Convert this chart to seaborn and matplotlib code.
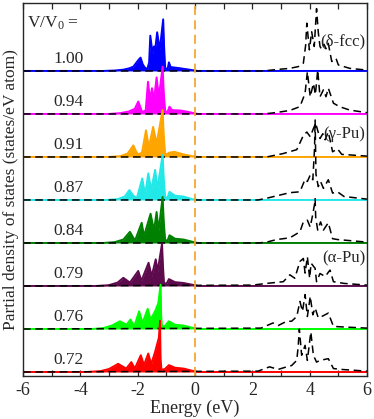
import numpy as np
import pandas as pd
import matplotlib
matplotlib.use("Agg")
import matplotlib.pyplot as plt
from matplotlib.ticker import MultipleLocator
import seaborn as sns

# ---------------- data ----------------
ratios = ["1.00", "0.94", "0.91", "0.87", "0.84", "0.79", "0.76", "0.72"]
colors = ["#0000ff", "#ff00ff", "#ffa500", "#22e8e8", "#008000", "#5e0b4e", "#00ff00", "#ff0000"]

# occupied (filled) partial DOS
occ_E = [
    [-6, -3.2, -2.8, -2.5, -2.3, -2.15, -1.98, -1.90, -1.82, -1.74, -1.66, -1.60, -1.56, -1.48, -1.43, -1.39, -1.32, -1.23, -1.11, -1.08, -1.04, -0.95, -0.91, -0.85, -0.6, -0.3, -0.1, 0.1, 6],
    [-6, -3.0, -2.6, -2.3, -2.1, -1.98, -1.90, -1.85, -1.72, -1.64, -1.57, -1.50, -1.43, -1.34, -1.26, -1.13, -1.09, -1.04, -0.95, -0.89, -0.8, -0.5, -0.25, -0.05, 0.1, 6],
    [-6, -3.0, -2.6, -2.35, -2.15, -2.05, -1.98, -1.85, -1.71, -1.61, -1.46, -1.34, -1.13, -1.09, -1.04, -0.95, -0.90, -0.72, -0.4, -0.1, 0.1, 6],
    [-6, -3.1, -2.7, -2.45, -2.29, -2.15, -2.03, -1.84, -1.74, -1.63, -1.53, -1.39, -1.31, -1.13, -1.09, -1.04, -0.95, -0.89, -0.7, -0.4, -0.1, 0.1, 6],
    [-6, -3.2, -2.8, -2.5, -2.27, -2.15, -2.09, -1.86, -1.78, -1.55, -1.43, -1.34, -1.27, -1.13, -1.09, -1.04, -0.95, -0.89, -0.7, -0.4, -0.1, 0.1, 6],
    [-6, -3.4, -3.0, -2.7, -2.50, -2.27, -1.98, -1.87, -1.62, -1.51, -1.37, -1.30, -1.15, -1.12, -1.08, -0.98, -0.91, -0.7, -0.4, -0.1, 0.1, 6],
    [-6, -3.6, -3.2, -2.9, -2.62, -2.39, -2.25, -2.12, -1.95, -1.83, -1.65, -1.55, -1.40, -1.28, -1.20, -1.18, -1.15, -1.05, -0.91, -0.7, -0.4, -0.1, 0.1, 6],
    [-6, -3.8, -3.3, -3.0, -2.68, -2.40, -2.22, -2.10, -1.89, -1.78, -1.63, -1.53, -1.40, -1.26, -1.22, -1.20, -1.17, -1.05, -0.91, -0.7, -0.4, -0.1, 0.1, 6],
]
occ_D = [
    [0, 0, 0.01, 0.03, 0.06, 0.10, 0.25, 0.31, 0.15, 0.07, 0.05, 0.20, 0.82, 0.41, 0.57, 0.49, 0.90, 0.49, 1.20, 0.60, 0.05, 0.06, 0.20, 0.09, 0.07, 0.04, 0.02, 0.0, 0],
    [0, 0, 0.02, 0.06, 0.12, 0.29, 0.15, 0.05, 0.08, 0.75, 0.33, 0.60, 0.33, 0.85, 0.40, 1.10, 0.50, 0.05, 0.06, 0.17, 0.09, 0.08, 0.05, 0.02, 0, 0],
    [0, 0, 0.02, 0.08, 0.27, 0.12, 0.06, 0.10, 0.62, 0.23, 0.70, 0.31, 1.09, 0.50, 0.05, 0.08, 0.10, 0.12, 0.06, 0.02, 0, 0],
    [0, 0, 0.02, 0.08, 0.23, 0.10, 0.04, 0.50, 0.12, 0.62, 0.23, 0.70, 0.27, 1.05, 0.50, 0.05, 0.07, 0.19, 0.10, 0.08, 0.02, 0, 0],
    [0, 0, 0.02, 0.08, 0.26, 0.12, 0.06, 0.47, 0.16, 0.68, 0.29, 0.72, 0.29, 1.07, 0.50, 0.05, 0.07, 0.18, 0.10, 0.08, 0.03, 0, 0],
    [0, 0, 0.02, 0.08, 0.19, 0.08, 0.35, 0.12, 0.54, 0.23, 0.62, 0.35, 0.99, 0.50, 0.05, 0.07, 0.16, 0.09, 0.07, 0.03, 0, 0],
    [0, 0, 0.02, 0.08, 0.18, 0.10, 0.22, 0.06, 0.41, 0.14, 0.47, 0.22, 0.40, 0.60, 1.03, 0.30, 0.05, 0.07, 0.18, 0.10, 0.08, 0.03, 0, 0],
    [0, 0, 0.02, 0.07, 0.19, 0.08, 0.23, 0.08, 0.39, 0.16, 0.43, 0.18, 0.45, 0.80, 1.19, 0.30, 0.05, 0.07, 0.16, 0.10, 0.08, 0.03, 0, 0],
]

# unoccupied (dashed) partial DOS
unocc_E = [
    [-6, 2.4, 2.8, 3.3, 3.6, 3.78, 3.86, 3.90, 3.99, 4.07, 4.16, 4.24, 4.30, 4.36, 4.42, 4.50, 4.57, 4.65, 4.77, 4.92, 5.0, 5.4, 6],
    [-6, 2.4, 2.8, 3.3, 3.66, 3.84, 3.92, 4.02, 4.13, 4.20, 4.28, 4.36, 4.48, 4.57, 4.65, 4.83, 5.04, 5.4, 6],
    [-6, 2.5, 3.08, 3.55, 3.78, 3.90, 4.02, 4.13, 4.21, 4.36, 4.46, 4.54, 4.65, 4.80, 4.97, 5.12, 6],
    [-6, 2.2, 2.5, 3.31, 3.66, 3.84, 3.92, 4.02, 4.11, 4.17, 4.19, 4.22, 4.30, 4.38, 4.48, 4.65, 4.80, 4.97, 5.2, 6],
    [-6, 2.2, 2.5, 2.85, 3.31, 3.66, 3.78, 3.92, 4.02, 4.10, 4.17, 4.19, 4.21, 4.28, 4.38, 4.48, 4.65, 4.80, 4.97, 6],
    [-6, 2.0, 2.5, 3.08, 3.31, 3.48, 3.66, 3.78, 3.84, 3.92, 4.0, 4.05, 4.19, 4.24, 4.36, 4.54, 4.71, 4.83, 5.2, 6],
    [-6, 2.3, 2.72, 2.9, 3.2, 3.37, 3.55, 3.66, 3.75, 3.84, 3.92, 4.02, 4.11, 4.19, 4.30, 4.42, 4.65, 4.83, 5.1, 6],
    [-6, 2.2, 2.6, 2.9, 3.2, 3.37, 3.55, 3.60, 3.64, 3.72, 3.84, 3.92, 4.04, 4.13, 4.24, 4.36, 4.65, 4.83, 5.1, 6],
]
unocc_D = [
    [0, 0, 0.03, 0.06, 0.10, 0.18, 0.60, 1.11, 0.49, 0.91, 0.57, 1.45, 0.90, 0.57, 0.50, 0.62, 0.52, 0.64, 0.22, 0.29, 0.14, 0.06, 0.02],
    [0, 0, 0.03, 0.08, 0.17, 0.48, 0.98, 0.40, 0.71, 0.45, 1.02, 0.40, 0.56, 0.40, 0.60, 0.25, 0.17, 0.09, 0.03],
    [0, 0, 0.08, 0.17, 0.50, 0.58, 0.47, 0.66, 0.78, 0.43, 0.54, 0.40, 0.58, 0.12, 0.19, 0.06, 0.02],
    [0, 0, 0.04, 0.17, 0.19, 0.48, 0.43, 0.58, 0.47, 1.20, 1.86, 0.60, 0.31, 0.43, 0.27, 0.47, 0.16, 0.19, 0.08, 0.02],
    [0, 0, 0.02, 0.08, 0.12, 0.26, 0.49, 0.53, 0.37, 0.64, 0.90, 1.03, 0.60, 0.30, 0.49, 0.30, 0.47, 0.10, 0.08, 0.02],
    [0, 0.02, 0.06, 0.10, 0.26, 0.18, 0.57, 0.64, 0.30, 0.68, 0.18, 0.53, 0.41, 0.10, 0.29, 0.22, 0.37, 0.10, 0.06, 0.02],
    [0, 0.02, 0.14, 0.08, 0.18, 0.18, 0.29, 0.64, 0.41, 0.80, 0.29, 0.76, 0.33, 0.49, 0.26, 0.29, 0.37, 0.06, 0.05, 0.02],
    [0, 0.02, 0.12, 0.06, 0.12, 0.15, 0.27, 0.60, 1.00, 0.39, 0.62, 0.27, 0.93, 0.39, 0.23, 0.27, 0.31, 0.08, 0.06, 0.02],
]

phase_labels = ["(\u03b4-fcc)", "(\u03b3-Pu)", "(\u03b1-Pu)"]
phase_rows = [0, 2, 5]
xticks = [-6, -4, -2, 0, 2, 4, 6]

# ---------------- style ----------------
sns.set_style("ticks")
plt.rcParams["font.family"] = ["Liberation Serif", "DejaVu Serif"]
plt.rcParams["mathtext.fontset"] = "custom"
plt.rcParams["mathtext.rm"] = "Liberation Serif"
plt.rcParams["mathtext.it"] = "Liberation Serif:italic"
plt.rcParams["axes.unicode_minus"] = False

fig = plt.figure(figsize=(3.74, 4.19), dpi=100)
ax = fig.add_axes([23 / 374, 43 / 419, 344 / 374, 373 / 419])

n = len(ratios)
for i in range(n):
    off = n - 1 - i
    E = np.array(occ_E[i], dtype=float)
    D = np.array(occ_D[i], dtype=float)
    ax.fill_between(E, off, off + D, color=colors[i], lw=0, zorder=2 + i)
    sns.lineplot(x=E, y=off + D, ax=ax, color=colors[i], lw=1.4, sort=False,
                 estimator=None, zorder=2 + i)
    Eu = np.array(unocc_E[i], dtype=float)
    Du = np.array(unocc_D[i], dtype=float)
    sns.lineplot(x=Eu, y=off + Du, ax=ax, color="black", lw=1.1, sort=False,
                 estimator=None, linestyle=(0, (5, 3)), zorder=2.5 + i)
    ax.text(-4.95, off + 0.19, ratios[i], fontsize=12.5, ha="left", va="baseline", zorder=20)

ax.text(-5.86, 8.0, r"V/V$_{\rm 0}$ =", fontsize=12.5, ha="left", va="baseline", zorder=20)

phase_y = [7.68, 5.53, 2.65]
for lab, yy in zip(phase_labels, phase_y):
    ax.text(5.95, yy, lab, fontsize=12, ha="right", va="center", zorder=20)

ax.axvline(0, color="#f5a733", lw=1.3, linestyle=(0, (5, 3)), zorder=30)

ax.set_xlim(-6, 6)
ax.set_ylim(-0.093, 8.58)
ax.set_yticks([])
ax.set_xticks(xticks)
ax.xaxis.set_minor_locator(MultipleLocator(1))
ax.tick_params(axis="x", which="both", direction="in", top=True, bottom=True,
               length=4, width=0.9, labelsize=13, pad=4)
ax.tick_params(axis="y", left=False, right=False)
for s in ax.spines.values():
    s.set_linewidth(1.0)
    s.set_zorder(40)

ax.set_xlabel("Energy (eV)", fontsize=13, labelpad=1)
ax.set_ylabel("Partial density of states (states/eV atom)", fontsize=12.5, labelpad=3)

fig.savefig("out.png", dpi=100)
